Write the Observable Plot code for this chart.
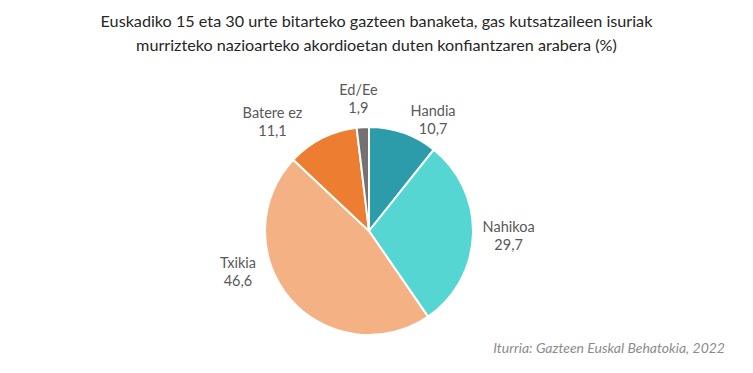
<!DOCTYPE html>
<html>
<head>
<meta charset="utf-8">
<script src="https://cdn.jsdelivr.net/npm/d3@7"></script>
<script src="https://cdn.jsdelivr.net/npm/@observablehq/plot@0.6"></script>
<style>
  html, body { margin: 0; padding: 0; background: #ffffff; }
  #wrap { position: relative; width: 753px; height: 373px; overflow: hidden; font-family: Lato, "Open Sans", sans-serif; }
  #title { position: absolute; left: 0; top: 9px; width: 753px; text-align: center; font-size: 16.2px; line-height: 24px; color: #262626; }
  #caption { position: absolute; right: 28px; top: 339px; font-size: 14px; font-style: italic; color: #8c8c8c; }
  #chart { position: absolute; left: 0; top: 60px; }
</style>
</head>
<body>
<div id="wrap">
  <div id="title">Euskadiko 15 eta 30 urte bitarteko gazteen banaketa, gas kutsatzaileen isuriak<br>murrizteko nazioarteko akordioetan duten konfiantzaren arabera (%)</div>
  <div id="chart"></div>
  <div id="caption">Iturria: Gazteen Euskal Behatokia, 2022</div>
</div>
<script>
// ---- data ----
const categories = ["Handia", "Nahikoa", "Txikia", "Batere ez", "Ed/Ee"];
const values = [10.7, 29.7, 46.6, 11.1, 1.9];
const colors = ["#2C9CAA", "#55D6D3", "#F4B183", "#ED7D31", "#767171"];
// label nudges (pixels) relative to the default outside-end position
const labelDx = [19, 4, -29, -36, -3];
const labelDy = [15, -1, -48, 10, 2];

// ---- layout ----
const W = 753, H = 313;
const cx = 369, cy = 171, R = 104;
const labelR = 1.3;

const table = categories.map((c, i) => ({cat: c, value: values[i], color: colors[i], i}));
const arcs = d3.pie().sort(null).value(d => d.value)(table);
const fmt = v => d3.format(".1f")(v).replace(".", ",");
const labels = arcs.map(a => {
  const mid = (a.startAngle + a.endAngle) / 2;
  const i = a.data.i;
  return {
    ...a.data,
    lx: Math.sin(mid) * labelR + labelDx[i] / R,
    ly: -Math.cos(mid) * labelR + labelDy[i] / R,
    text: a.data.cat + "\n" + fmt(a.data.value)
  };
});

function pieMark(index, scales) {
  const x0 = scales.x(0), y0 = scales.y(0);
  const r = scales.x(1) - scales.x(0);
  const arcGen = d3.arc().innerRadius(0).outerRadius(r);
  const g = d3.create("svg:g").attr("transform", `translate(${x0},${y0})`);
  g.selectAll("path").data(arcs).join("path")
    .attr("d", arcGen)
    .attr("fill", d => d.data.color)
    .attr("stroke", "#ffffff")
    .attr("stroke-width", 2)
    .attr("stroke-linejoin", "round");
  return g.node();
}

const chart = Plot.plot({
  width: W,
  height: H,
  margin: 0,
  x: {domain: [-cx / R, (W - cx) / R], range: [0, W], axis: null},
  y: {domain: [-cy / R, (H - cy) / R], range: [0, H], axis: null},
  style: {fontFamily: "Lato, 'Open Sans', sans-serif", background: "transparent"},
  marks: [
    pieMark,
    Plot.text(labels, {
      x: "lx", y: "ly", text: "text",
      fill: "#595959", fontSize: 14.5, lineHeight: 1.25,
      textAnchor: "middle", lineAnchor: "middle"
    })
  ]
});
document.getElementById("chart").appendChild(chart);
</script>
</body>
</html>
